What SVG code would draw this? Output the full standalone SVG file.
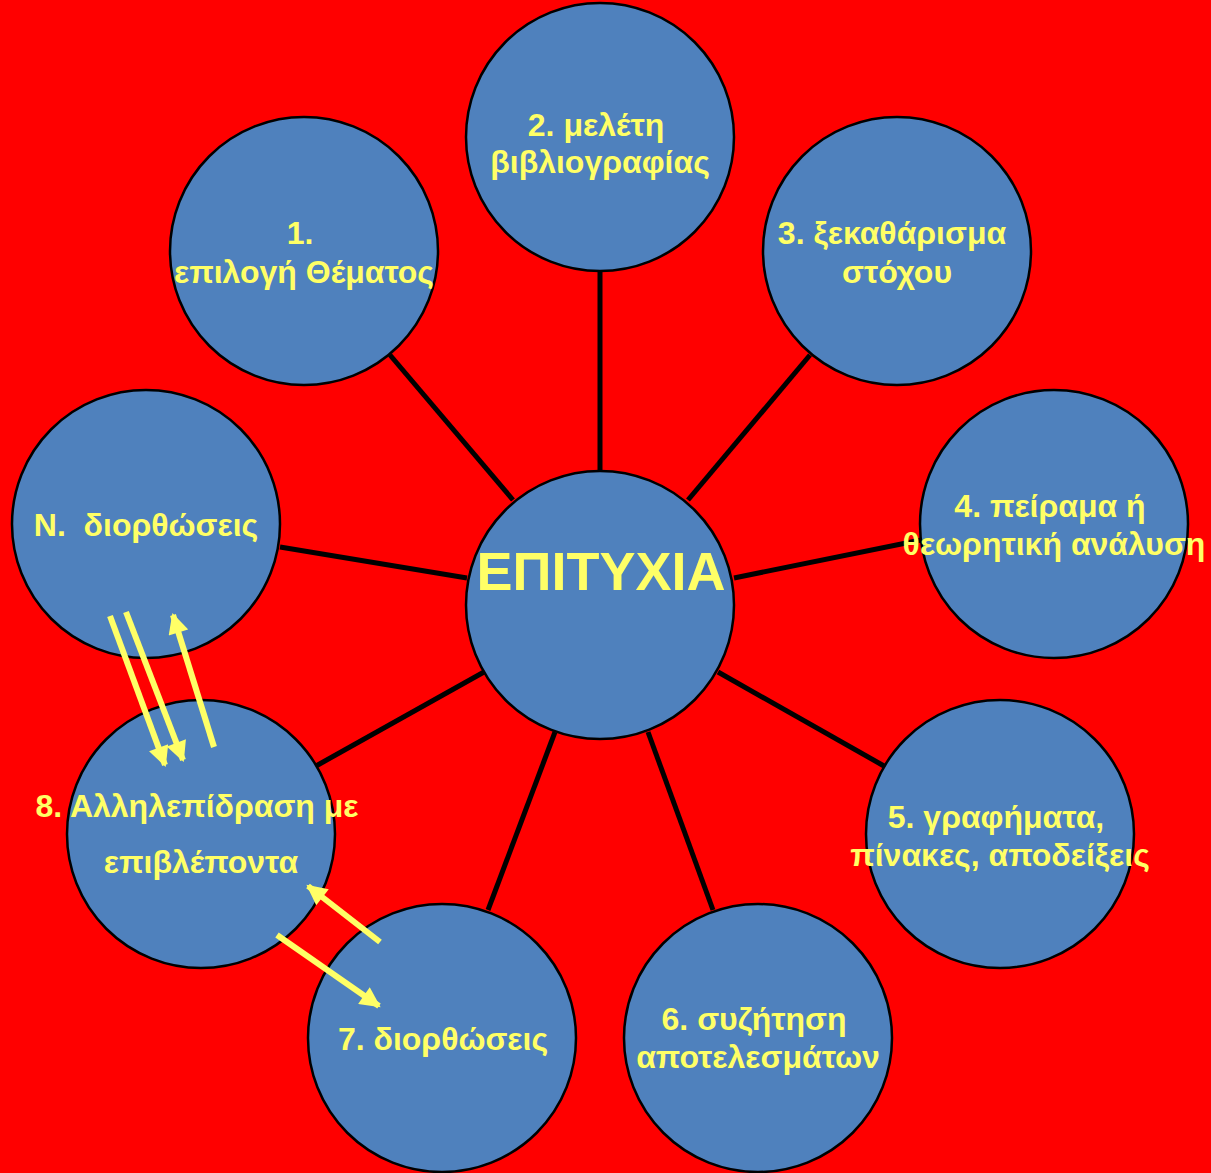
<svg xmlns="http://www.w3.org/2000/svg" width="1211" height="1173" viewBox="0 0 1211 1173">
  <style>
    .node circle { fill: #4F81BD; stroke: #000; stroke-width: 2.5; }
    .lbl { font-family: "Liberation Sans", Arial, sans-serif; font-weight: bold; font-size: 32px; fill: #FFFF66; text-anchor: middle; }
    .big { font-size: 54px; }
    .spoke { stroke: #000; stroke-width: 5; }
    .flow { stroke: #FFFF66; stroke-width: 6; fill: none; marker-end: url(#head); }
  </style>
  <defs>
    <marker id="head" viewBox="0 0 10 10" refX="9" refY="5" markerWidth="3.6" markerHeight="3.4" orient="auto">
      <path d="M0,0 L10,5 L0,10 Z" fill="#FFFF66"/>
    </marker>
  </defs>

  <rect width="1211" height="1173" fill="#FF0000"/>

  <!-- spokes from the centre to each step -->
  <g id="connectors">
    <line class="spoke" x1="600" y1="272" x2="600" y2="471"/>
    <line class="spoke" x1="390" y1="355" x2="513" y2="500"/>
    <line class="spoke" x1="810" y1="355" x2="688" y2="500"/>
    <line class="spoke" x1="921" y1="540" x2="734" y2="578"/>
    <line class="spoke" x1="884" y1="766" x2="718" y2="672"/>
    <line class="spoke" x1="713" y1="910" x2="648" y2="732"/>
    <line class="spoke" x1="488" y1="910" x2="555" y2="732"/>
    <line class="spoke" x1="316" y1="766" x2="484" y2="672"/>
    <line class="spoke" x1="280" y1="547" x2="467" y2="578"/>
  </g>

  <g id="n1" class="node">
    <circle cx="304" cy="251" r="134"/>
    <text class="lbl" x="300" y="244">1.</text>
    <text class="lbl" x="304" y="283">επιλογή Θέματος</text>
  </g>
  <g id="n2" class="node">
    <circle cx="600" cy="137" r="134"/>
    <text class="lbl" x="596" y="136">2. μελέτη</text>
    <text class="lbl" x="600" y="173">βιβλιογραφίας</text>
  </g>
  <g id="n3" class="node">
    <circle cx="897" cy="251" r="134"/>
    <text class="lbl" x="892" y="244">3. ξεκαθάρισμα</text>
    <text class="lbl" x="897" y="283">στόχου</text>
  </g>
  <g id="n4" class="node">
    <circle cx="1054" cy="524" r="134"/>
    <text class="lbl" x="1050" y="517">4. πείραμα ή</text>
    <text class="lbl" x="1054" y="555">θεωρητική ανάλυση</text>
  </g>
  <g id="n5" class="node">
    <circle cx="1000" cy="834" r="134"/>
    <text class="lbl" x="996" y="828">5. γραφήματα,</text>
    <text class="lbl" x="1000" y="866">πίνακες, αποδείξεις</text>
  </g>
  <g id="n6" class="node">
    <circle cx="758" cy="1038" r="134"/>
    <text class="lbl" x="754" y="1030">6. συζήτηση</text>
    <text class="lbl" x="758" y="1068">αποτελεσμάτων</text>
  </g>
  <g id="n7" class="node">
    <circle cx="442" cy="1038" r="134"/>
    <text class="lbl" x="443" y="1050">7. διορθώσεις</text>
  </g>
  <g id="n8" class="node">
    <circle cx="201" cy="834" r="134"/>
    <text class="lbl" x="197" y="817">8. Αλληλεπίδραση με</text>
    <text class="lbl" x="201" y="873">επιβλέποντα</text>
  </g>
  <g id="nN" class="node">
    <circle cx="146" cy="524" r="134"/>
    <text class="lbl" x="146" y="536" xml:space="preserve">Ν.  διορθώσεις</text>
  </g>
  <g id="center" class="node">
    <circle cx="600" cy="605" r="134"/>
    <text class="lbl big" x="601" y="590">ΕΠΙΤΥΧΙΑ</text>
  </g>

  <!-- feedback arrows between steps N, 8 and 7 -->
  <g id="feedback">
    <line class="flow" x1="110" y1="616" x2="165" y2="765"/>
    <line class="flow" x1="126" y1="612" x2="183" y2="760"/>
    <line class="flow" x1="214" y1="747" x2="173" y2="615"/>
    <line class="flow" x1="380" y1="942" x2="308" y2="886"/>
    <line class="flow" x1="277" y1="935" x2="379" y2="1006"/>
  </g>
</svg>
